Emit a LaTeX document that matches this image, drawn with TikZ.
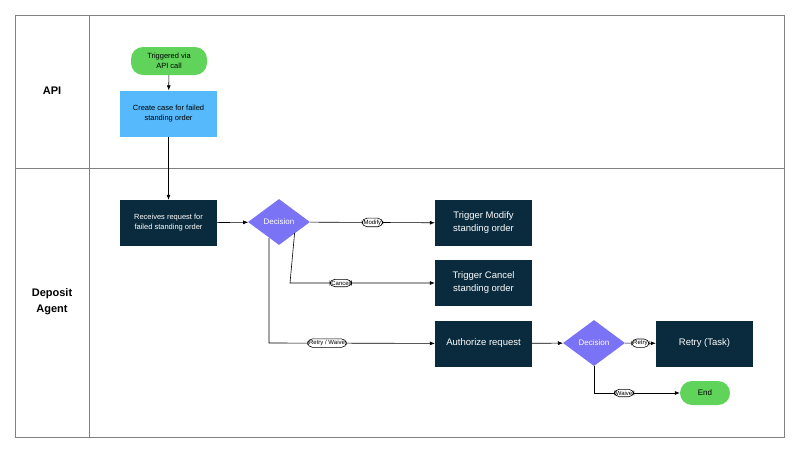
\documentclass[tikz,border=0pt]{standalone}
\usepackage{fontspec}
\setmainfont{Liberation Sans}
\usetikzlibrary{shapes.geometric,arrows.meta,positioning}
\definecolor{darkbox}{HTML}{0A2B3D}
\definecolor{apiblue}{HTML}{55B9FB}
\definecolor{startgreen}{HTML}{5FD35A}
\definecolor{decviolet}{HTML}{7B73F5}
\tikzset{
  proc/.style={draw=none, fill=darkbox, text=white, minimum width=97pt, minimum height=46pt, align=center, inner sep=1pt},
  api/.style={proc, fill=apiblue, text=black},
  term/.style={fill=startgreen, rounded corners=12pt, align=center, inner sep=1pt},
  dec/.style={diamond, fill=decviolet, text=white, minimum width=62pt, minimum height=46pt, inner sep=0pt, font=\fontsize{8}{9}\selectfont},
  tag/.style={draw, fill=white, rounded corners=5pt, inner sep=1.5pt, font=\fontsize{6}{7}\selectfont},
  flow/.style={-{Latex[length=5pt,width=4pt]}, semithick},
}
\begin{document}
\begin{tikzpicture}[x=1pt, y=-1pt]
    \useasboundingbox (0,0) rectangle (800,453);
    % lanes
    \draw[gray] (15,15) rectangle (784,437);
    \draw[gray] (89,15) -- (89,437);
    \draw[gray] (15,168) -- (784,168);
    \node[font=\bfseries\fontsize{11}{13}\selectfont] (laneapi) at (52,91) {API};
    \node[font=\bfseries\fontsize{11}{13}\selectfont, align=center] (lanedep) at (52,302) {Deposit\\[3pt]Agent};

    % api lane
    \node[term, minimum width=76pt, minimum height=28pt, font=\fontsize{7.5}{10}\selectfont] (trig) at (169,61) {Triggered via\\API call};
    \node[api, font=\fontsize{7.5}{10}\selectfont] (create) at (168.5,113.5) {Create case for failed\\standing order};

    % deposit lane
    \node[proc, font=\fontsize{7.5}{10}\selectfont] (recv) at (168.5,223) {Receives request for\\failed standing order};
    \node[dec] (dec1) at (279,222) {Decision};
    \node[proc, font=\fontsize{9.5}{13}\selectfont] (modify) at (483.5,223) {Trigger Modify\\standing order};
    \node[proc, font=\fontsize{9.5}{13}\selectfont] (cancel) at (483.5,283) {Trigger Cancel\\standing order};
    \node[proc, font=\fontsize{9.5}{13}\selectfont] (auth) at (483.5,343.5) {Authorize request};
    \node[dec] (dec2) at (594,343) {Decision};
    \node[proc, font=\fontsize{9.5}{13}\selectfont] (retry) at (704.5,343.5) {Retry (Task)};
    \node[term, minimum width=50pt, minimum height=24pt, font=\fontsize{8}{10}\selectfont] (end) at (705,393) {End};

    \coordinate (c1) at (290,283);
    \coordinate (c2) at (269,343);
    \coordinate (c3) at (594,393);

    % connectors
    \draw[flow] (trig) -- (create);
    \draw[flow] (create) -- (recv);
    \draw[flow] (recv) -- (dec1);
    \draw[flow] (dec1) -- node[tag] {Modify} (modify);
    \draw[flow] (dec1.south east |- 0,233) -- (c1) -- node[tag, pos=0.35] {Cancel} (cancel);
    \draw[flow] (269,238) -- (c2) -- node[tag, pos=0.35] {Retry / Waive} (auth);
    \draw[flow] (auth) -- (dec2);
    \draw[flow] (dec2) -- node[tag] {Retry} (retry);
    \draw[flow] (dec2.south) -- (c3) -- node[tag, pos=0.35] {Waive} (end);
\end{tikzpicture}
\end{document}
